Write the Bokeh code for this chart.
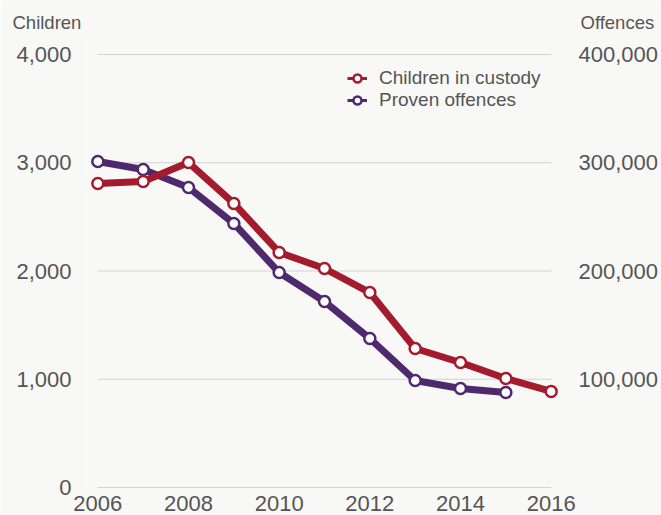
from bokeh.plotting import figure
from bokeh.models import (Range1d, LinearAxis, FixedTicker, NumeralTickFormatter,
                          Title, Legend, LegendItem)
from bokeh.embed import file_html
from bokeh.resources import INLINE

# ---- data ----
years_custody = [2006, 2007, 2008, 2009, 2010, 2011, 2012, 2013, 2014, 2015, 2016]
children_in_custody = [2808, 2827, 3002, 2624, 2171, 2023, 1801, 1284, 1155, 1007, 887]

years_offences = [2006, 2007, 2008, 2009, 2010, 2011, 2012, 2013, 2014, 2015]
proven_offences = [301200, 293800, 277100, 243900, 198600, 171800, 137600, 98800, 91500, 87800]

x_ticks = [2006, 2008, 2010, 2012, 2014, 2016]
left_ticks = [0, 1000, 2000, 3000, 4000]
right_ticks = [100000, 200000, 300000, 400000]

series_labels = ["Children in custody", "Proven offences"]
left_title = "Children"
right_title = "Offences"

# ---- style ----
BG = "#f8f8f6"
RED = "#a31b2c"
PURPLE = "#4f296d"
TXT = "#555555"
GRID = "#d2d2d2"
FONT = "Liberation Sans"

p = figure(width=661, height=515,
           x_range=Range1d(2005.75, 2016.25), y_range=Range1d(-55.4, 4147.8),
           output_backend="svg", toolbar_location=None,
           min_border_left=86, min_border_right=97, min_border_top=38, min_border_bottom=22,
           background_fill_color=BG, border_fill_color=BG, outline_line_color=None)
p.extra_y_ranges = {"off": Range1d(-5540, 414780)}

p.xgrid.visible = False
p.ygrid.visible = False

def style_axis(ax, standoff):
    ax.axis_line_color = None
    ax.major_tick_line_color = None
    ax.minor_tick_line_color = None
    ax.major_tick_out = 0
    ax.major_tick_in = 0
    ax.major_label_standoff = standoff
    ax.major_label_text_font = FONT
    ax.major_label_text_font_size = "22px"
    ax.major_label_text_color = TXT

p.xaxis.ticker = FixedTicker(ticks=x_ticks)
style_axis(p.xaxis[0], 2)
p.xaxis.major_label_text_line_height = 0.8
p.yaxis.ticker = FixedTicker(ticks=left_ticks)
p.yaxis.formatter = NumeralTickFormatter(format="0,0")
style_axis(p.yaxis[0], 15)

rax = LinearAxis(y_range_name="off", ticker=FixedTicker(ticks=right_ticks),
                 formatter=NumeralTickFormatter(format="0,0"))
style_axis(rax, 16)
p.add_layout(rax, "right")

# gridlines spanning the data years
p.segment(x0=years_custody[0], x1=years_custody[-1], y0=left_ticks, y1=left_ticks,
          line_color=GRID, line_width=1.2)

# series
p.line(years_offences, proven_offences, y_range_name="off",
       line_color=PURPLE, line_width=7, line_join="round")
p.scatter(years_offences, proven_offences, y_range_name="off", size=11,
          fill_color="white", line_color=PURPLE, line_width=2.5)
p.line(years_custody, children_in_custody,
       line_color=RED, line_width=7, line_join="round")
p.scatter(years_custody, children_in_custody, size=11,
          fill_color="white", line_color=RED, line_width=2.5)

# legend keys (thin line + hollow circle), hidden copies used only by the legend
lr = p.line(years_custody, children_in_custody, line_color=RED, line_width=3, visible=False)
lrs = p.scatter(years_custody, children_in_custody, fill_color="white", line_color=RED,
                line_width=2.5, visible=False)
lp = p.line(years_offences, proven_offences, y_range_name="off", line_color=PURPLE,
            line_width=3, visible=False)
lps = p.scatter(years_offences, proven_offences, y_range_name="off", fill_color="white",
                line_color=PURPLE, line_width=2.5, visible=False)

legend = Legend(items=[LegendItem(label=series_labels[0], renderers=[lr, lrs]),
                       LegendItem(label=series_labels[1], renderers=[lp, lps])],
                location=(261, 382), orientation="vertical",
                background_fill_alpha=0, border_line_color=None,
                padding=0, margin=0, spacing=0,
                glyph_width=20, glyph_height=20, label_height=20, label_standoff=12,
                label_text_font=FONT, label_text_font_size="19px", label_text_color=TXT)
p.add_layout(legend)

t1 = Title(text=left_title, align="left", offset=-74, standoff=12,
           text_font=FONT, text_font_size="18.5px", text_color=TXT, text_font_style="normal")
t2 = Title(text=right_title, align="left", offset=494, standoff=-58,
           text_font=FONT, text_font_size="18.5px", text_color=TXT, text_font_style="normal")
p.add_layout(t1, "above")
p.add_layout(t2, "above")

open("out.html", "w").write(file_html(p, INLINE))
